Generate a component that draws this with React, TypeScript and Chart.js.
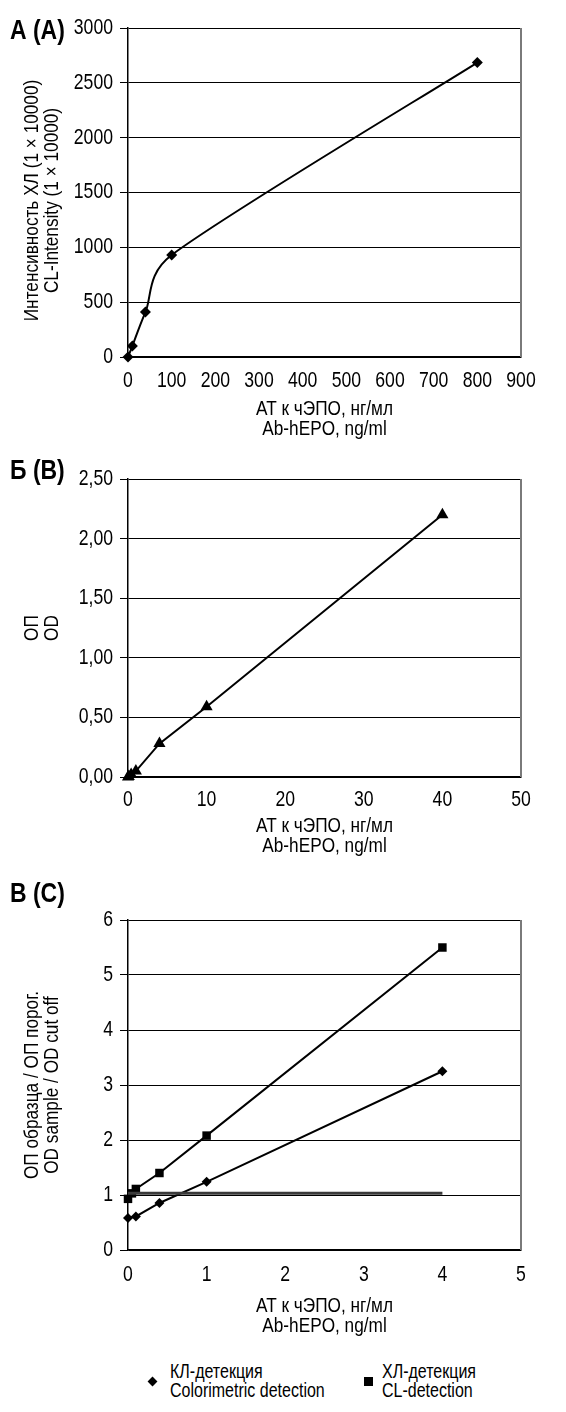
import React, { useEffect, useRef } from "react";
import { Chart, registerables } from "chart.js";

Chart.register(...registerables);

const FONT = '"Liberation Sans", Arial, sans-serif';
const SX = 0.82; // horizontal condensation (Arial Narrow look)

// ---------- Panel A (CL intensity) ----------
const aConc = [0, 10, 40, 100, 800];
const aIntensity = [0, 100, 410, 930, 2685];
const aXTicks = ["0", "100", "200", "300", "400", "500", "600", "700", "800", "900"];
const aYTicks = ["0", "500", "1000", "1500", "2000", "2500", "3000"];
const aYTitle = ["Интенсивность ХЛ (1 × 10000)", "CL-Intensity (1 × 10000)"];

// ---------- Panel B (OD) ----------
const bConc = [0, 0.1, 0.4, 1, 4, 10, 40];
const bOD = [0, 0.005, 0.02, 0.05, 0.28, 0.59, 2.2];
const bXTicks = ["0", "10", "20", "30", "40", "50"];
const bYTicks = ["0,00", "0,50", "1,00", "1,50", "2,00", "2,50"];
const bYTitle = ["ОП", "OD"];

// ---------- Panel C (sample / cut off) ----------
const cConcCL = [0, 0.05, 0.1, 0.4, 1, 4];
const cRatioCL = [0.93, 1.03, 1.11, 1.4, 2.08, 5.5];
const cConcColor = [0, 0.1, 0.4, 1, 4];
const cRatioColor = [0.58, 0.61, 0.855, 1.24, 3.25];
const cCutoffConc = [0, 4];
const cCutoffRatio = [1.03, 1.03];
const cXTicks = ["0", "1", "2", "3", "4", "5"];
const cYTicks = ["0", "1", "2", "3", "4", "5", "6"];
const cYTitle = ["ОП образца / ОП порог.", "OD sample / OD cut off"];

const xTitle = ["АТ к чЭПО, нг/мл", "Ab-hEPO, ng/ml"];
const panelLabels = ["А (A)", "Б (B)", "В (C)"];
const legendColor = ["КЛ-детекция", "Colorimetric detection"];
const legendCL = ["ХЛ-детекция", "CL-detection"];

const W = 566;
const TICK_SIZE = 21.5;
const TICK_LH = 1.2;
const TITLE_SIZE = 21;
const TITLE_LH = 20;

type Geo = {
  top: number;
  height: number;
  plotTop: number;
  plotBottom: number;
  left: number;
  right: number;
  xTickCenter: number;
  xTitle1: number;
  yTitle1: number;
  yTitleDy: number;
};

const geoA: Geo = { top: 0, height: 440, plotTop: 28, plotBottom: 357, left: 128, right: 521, xTickCenter: 381, xTitle1: 409, yTitle1: 32, yTitleDy: 8 };
const geoB: Geo = { top: 440, height: 430, plotTop: 479, plotBottom: 777, left: 128, right: 521, xTickCenter: 800, xTitle1: 826, yTitle1: 32, yTitleDy: 0 };
const geoC: Geo = { top: 870, height: 475, plotTop: 920, plotBottom: 1250, left: 128, right: 521, xTickCenter: 1275, xTitle1: 1306, yTitle1: 32, yTitleDy: 0 };

const pts = (xs: number[], ys: number[]) => xs.map((x, i) => ({ x, y: ys[i] }));

const rightBorder = {
  id: "rightBorder",
  beforeDatasetsDraw(chart: any) {
    const { ctx, chartArea } = chart;
    ctx.save();
    ctx.strokeStyle = "#7a7a7a";
    ctx.lineWidth = 2;
    ctx.beginPath();
    ctx.moveTo(chartArea.right, chartArea.top);
    ctx.lineTo(chartArea.right, chartArea.bottom);
    ctx.stroke();
    ctx.restore();
  },
};

// Excel-style smoothed line: control points from neighbours (1/6 tension, capped to half segment)
const excelSmooth = {
  id: "excelSmooth",
  beforeDatasetDraw(chart: any, args: any) {
    const ds = chart.data.datasets[args.index];
    if (!ds || !ds.excelSmooth) return;
    const meta = args.meta;
    if (meta.dataset && meta.dataset.updateControlPoints) {
      meta.dataset.updateControlPoints(chart.chartArea, meta.indexAxis);
    }
    const p = meta.data;
    const n = p.length;
    const dist = (a: any, b: any) => Math.hypot(b.x - a.x, b.y - a.y);
    for (let i = 0; i < n - 1; i++) {
      const P0 = p[Math.max(i - 1, 0)];
      const P1 = p[i];
      const P2 = p[i + 1];
      const P3 = p[Math.min(i + 2, n - 1)];
      const d12 = dist(P1, P2);
      const d02 = dist(P0, P2);
      const d13 = dist(P1, P3);
      let f1 = 1 / 6;
      let f2 = 1 / 6;
      if (d02 / 6 >= d12 / 2 && d02 > 0) f1 = d12 / d02 / 2;
      if (d13 / 6 >= d12 / 2 && d13 > 0) f2 = d12 / d13 / 2;
      P1.cp2x = P1.x + f1 * (P2.x - P0.x);
      P1.cp2y = P1.y + f1 * (P2.y - P0.y);
      P2.cp1x = P2.x - f2 * (P3.x - P1.x);
      P2.cp1y = P2.y - f2 * (P3.y - P1.y);
    }
  },
};

function shiftTitle(s: any, dx: number, dy: number) {
  if (s.__titleShifted || (!dx && !dy)) return;
  s.__titleShifted = true;
  const orig = s.drawTitle;
  s.drawTitle = function (...a: any[]) {
    this.ctx.save();
    this.ctx.translate(dx, dy);
    orig.apply(this, a);
    this.ctx.restore();
  };
}

function buildConfig(
  geo: Geo,
  datasets: any[],
  xAxis: { max: number; step: number; labels: string[] },
  yAxis: { max: number; step: number; labels: string[] },
  yTitle: string[]
): any {
  const tickLH = TICK_SIZE * TICK_LH;
  const xBoxH = geo.top + geo.height - geo.plotBottom;
  const tickPad = geo.xTickCenter - geo.plotBottom - tickLH / 2;
  const titlePadBottom = geo.top + geo.height - geo.xTitle1 - TITLE_LH / 2 - TITLE_LH;
  const yTitlePad = geo.yTitle1 - TITLE_LH / 2;
  const tickFont = { family: FONT, size: TICK_SIZE, lineHeight: TICK_LH };
  const titleFont = { family: FONT, size: TITLE_SIZE, lineHeight: TITLE_LH / TITLE_SIZE };
  return {
    type: "line",
    data: { datasets },
    options: {
      responsive: false,
      animation: false,
      events: [],
      layout: { padding: { top: geo.plotTop - geo.top, right: W - geo.right, left: 0, bottom: 0 } },
      plugins: { legend: { display: false }, tooltip: { enabled: false } },
      scales: {
        x: {
          type: "linear",
          min: 0,
          max: xAxis.max,
          ticks: {
            stepSize: xAxis.step,
            autoSkip: false,
            maxRotation: 0,
            padding: tickPad,
            color: "#000",
            font: tickFont,
            callback: (_v: any, i: number) => xAxis.labels[i] ?? "",
          },
          grid: { display: false, drawTicks: false },
          border: { display: true, color: "#000", width: 1.5 },
          title: {
            display: true,
            text: xTitle,
            color: "#000",
            font: titleFont,
            padding: { top: 0, bottom: titlePadBottom },
          },
          afterFit: (s: any) => {
            s.height = xBoxH;
          },
        },
        y: {
          type: "linear",
          min: 0,
          max: yAxis.max,
          ticks: {
            stepSize: yAxis.step,
            padding: 7,
            color: "#000",
            font: tickFont,
            callback: (_v: any, i: number) => yAxis.labels[i] ?? "",
          },
          grid: { color: "#000", lineWidth: 1, drawTicks: true, tickLength: 8 },
          border: { display: true, color: "#000", width: 1.5 },
          title: {
            display: true,
            text: yTitle,
            color: "#000",
            font: titleFont,
            padding: { top: yTitlePad, bottom: 0 },
          },
          afterFit: (s: any) => {
            s.width = geo.left;
            shiftTitle(s, 0, geo.yTitleDy);
          },
        },
      },
    },
    plugins: [rightBorder, excelSmooth],
  };
}

const lineDs = (data: any[], pointStyle: string, radius: number) => ({
  data,
  borderColor: "#000",
  borderWidth: 2,
  pointStyle,
  pointRadius: radius,
  pointBackgroundColor: "#000",
  pointBorderColor: "#000",
  pointBorderWidth: 0,
  tension: 0,
  clip: false,
});

const configA = () =>
  buildConfig(
    geoA,
    [{ ...lineDs(pts(aConc, aIntensity), "rectRot", 5.5), tension: 0.4, excelSmooth: true }],
    { max: 900, step: 100, labels: aXTicks },
    { max: 3000, step: 500, labels: aYTicks },
    aYTitle
  );

const configB = () =>
  buildConfig(
    geoB,
    [lineDs(pts(bConc, bOD), "triangle", 7)],
    { max: 50, step: 10, labels: bXTicks },
    { max: 2.5, step: 0.5, labels: bYTicks },
    bYTitle
  );

const configC = () =>
  buildConfig(
    geoC,
    [
      {
        data: pts(cCutoffConc, cCutoffRatio),
        borderColor: "#3a3a3a",
        borderWidth: 3,
        pointRadius: 0,
        clip: false,
      },
      lineDs(pts(cConcColor, cRatioColor), "rectRot", 5),
      lineDs(pts(cConcCL, cRatioCL), "rect", 6),
    ],
    { max: 5, step: 1, labels: cXTicks },
    { max: 6, step: 1, labels: cYTicks },
    cYTitle
  );

function condense(ctx: CanvasRenderingContext2D) {
  const anyCtx = ctx as any;
  if (anyCtx.__condensed) return;
  anyCtx.__condensed = true;
  const orig = ctx.fillText.bind(ctx);
  anyCtx.fillText = (text: string, x: number, y: number, maxWidth?: number) => {
    ctx.save();
    ctx.translate(x, y);
    ctx.scale(SX, 1);
    if (maxWidth === undefined || maxWidth === null) orig(text, 0, 0);
    else orig(text, 0, 0, maxWidth / SX);
    ctx.restore();
  };
}

function Panel({ geo, make }: { geo: Geo; make: () => any }) {
  const ref = useRef<HTMLCanvasElement>(null);
  useEffect(() => {
    const canvas = ref.current as HTMLCanvasElement;
    const ctx = canvas.getContext("2d") as CanvasRenderingContext2D;
    condense(ctx);
    const chart = new Chart(canvas, make());
    return () => chart.destroy();
  }, []);
  return (
    <canvas
      ref={ref}
      width={W}
      height={geo.height}
      style={{ position: "absolute", left: 0, top: geo.top, width: W, height: geo.height }}
    />
  );
}

const labelStyle = (top: number): React.CSSProperties => ({
  position: "absolute",
  left: 10,
  top,
  fontFamily: FONT,
  fontWeight: "bold",
  fontSize: 28,
  lineHeight: "28px",
  color: "#000",
  whiteSpace: "nowrap",
  transform: `scaleX(${SX})`,
  transformOrigin: "left center",
});

const legendTextStyle = (left: number): React.CSSProperties => ({
  position: "absolute",
  left,
  top: 1362,
  fontFamily: FONT,
  fontSize: 20,
  lineHeight: "19px",
  color: "#000",
  whiteSpace: "nowrap",
  transform: "scaleX(0.8)",
  transformOrigin: "left center",
});

export default function App() {
  return (
    <div style={{ position: "absolute", left: 0, top: 0, width: W, height: 1412, background: "#fff", overflow: "hidden" }}>
      <Panel geo={geoA} make={configA} />
      <Panel geo={geoB} make={configB} />
      <Panel geo={geoC} make={configC} />
      <div style={labelStyle(16)}>{panelLabels[0]}</div>
      <div style={labelStyle(456)}>{panelLabels[1]}</div>
      <div style={labelStyle(879)}>{panelLabels[2]}</div>
      <div
        style={{
          position: "absolute",
          left: 148.5,
          top: 1378,
          width: 7,
          height: 7,
          background: "#000",
          transform: "rotate(45deg)",
        }}
      />
      <div style={legendTextStyle(170)}>
        <div>{legendColor[0]}</div>
        <div>{legendColor[1]}</div>
      </div>
      <div
        style={{
          position: "absolute",
          left: 364,
          top: 1377,
          width: 9,
          height: 9,
          background: "#000",
        }}
      />
      <div style={legendTextStyle(382)}>
        <div>{legendCL[0]}</div>
        <div>{legendCL[1]}</div>
      </div>
    </div>
  );
}
